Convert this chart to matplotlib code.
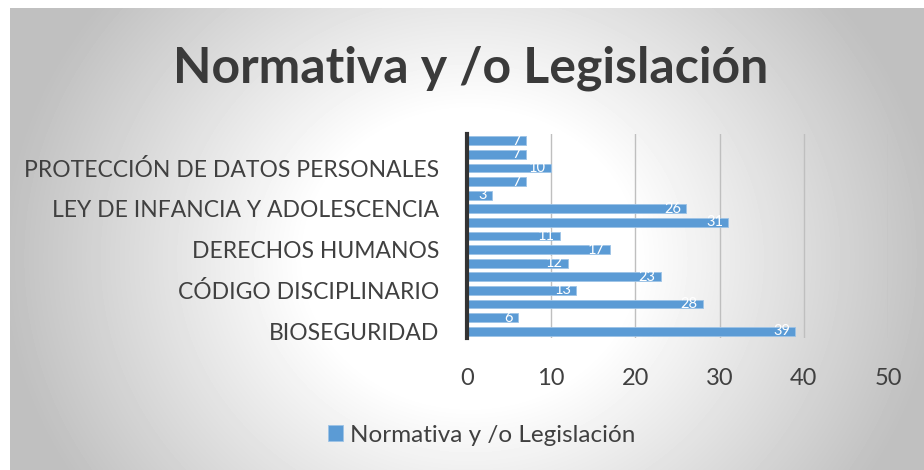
import numpy as np
import matplotlib
matplotlib.use("Agg")
import matplotlib.pyplot as plt

plt.rcParams['font.family'] = ['Lato', 'DejaVu Sans']

# bars from bottom to top; only every third category name is shown in the chart
categories = ["BIOSEGURIDAD", "", "", "CÓDIGO DISCIPLINARIO", "", "",
              "DERECHOS HUMANOS", "", "", "LEY DE INFANCIA Y ADOLESCENCIA", "", "",
              "PROTECCIÓN DE DATOS PERSONALES", "", ""]
values = [39, 6, 28, 13, 23, 12, 17, 11, 31, 26, 3, 7, 10, 7, 7]
x_ticks = [0, 10, 20, 30, 40, 50]
title = "Normativa y /o Legislación"
series_name = "Normativa y /o Legislación"

W, H = 924, 470
fig = plt.figure(figsize=(W / 100, H / 100), dpi=100)

# radial grey background of the chart area
bg = fig.add_axes([10 / W, 0, 1 - 10 / W, 1 - 8 / H], zorder=-10)
yy, xx = np.mgrid[0:462, 0:914]
d = np.sqrt(((xx - 460) / 470.0) ** 2 + ((yy - 250) / 420.0) ** 2)
shade = 1 - 0.25 * np.clip((d - 0.35) / 0.65, 0, 1)
bg.imshow(shade, cmap="gray", vmin=0, vmax=1, aspect="auto", interpolation="bilinear")
bg.axis("off")

ax = fig.add_axes([467 / W, 0.281, (888 - 467) / W, 0.715 - 0.281])
ax.patch.set_alpha(0)
y = np.arange(len(values))
bars = ax.barh(y, values, height=0.65, color="#5b9bd5", edgecolor="#9dc3e6", linewidth=0.6,
               label=series_name, zorder=3)
for yi, v in zip(y, values):
    ax.text(v - 0.6, yi, str(v), color="white", fontsize=10.5, ha="right", va="center", zorder=4)

ax.set_xlim(0, 50)
ax.set_ylim(-0.5, len(values) - 0.5)
ax.set_xticks(x_ticks)
ax.set_yticks(y)
ax.set_yticklabels(categories)
ax.tick_params(axis="both", length=0, colors="#404040")
ax.tick_params(axis="y", labelsize=16.5, pad=20)
ax.tick_params(axis="x", labelsize=17, pad=22)
ax.grid(axis="x", color="#bfbfbf", linewidth=1, zorder=0)
for s in ["top", "right", "bottom"]:
    ax.spines[s].set_visible(False)
ax.spines["left"].set_color("#333333")
ax.spines["left"].set_linewidth(3)
ax.spines["left"].set_zorder(5)

fig.text(471 / W, 1 - 68 / H, title, fontsize=36, fontweight="bold", color="#3a3a3a",
         ha="center", va="center")
fig.legend(handles=[bars], labels=[series_name], loc="center", bbox_to_anchor=(482 / W, 1 - 435 / H),
           frameon=False, fontsize=17.5, handlelength=0.6, handleheight=0.6, handletextpad=0.3,
           labelcolor="#404040")

fig.savefig("out.png", dpi=100)
